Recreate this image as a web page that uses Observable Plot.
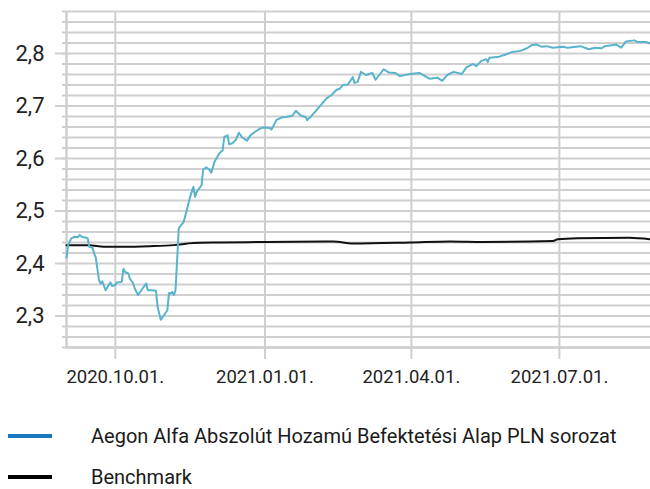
<!DOCTYPE html>
<html><head><meta charset="utf-8">
<script src="https://cdn.jsdelivr.net/npm/d3@7"></script>
<script src="https://cdn.jsdelivr.net/npm/@observablehq/plot@0.6"></script>
<style>
html,body{margin:0;background:#fff;font-family:Roboto,"Noto Sans",sans-serif;color:#1a1a1a;overflow:hidden;}
#chart svg{display:block;}
.leg{position:absolute;left:0;display:flex;align-items:center;font-size:20px;line-height:16px;height:16px;}
.sw{width:44px;height:4px;margin-left:8px;margin-right:39px;}
</style></head><body>
<div id="chart"></div>
<div class="leg" style="top:428px"><div class="sw" style="background:#1a78c2"></div><span>Aegon Alfa Abszolút Hozamú Befektetési Alap PLN sorozat</span></div>
<div class="leg" style="top:469px"><div class="sw" style="background:#000"></div><span>Benchmark</span></div>
<script>
const fundDates = ["2020-09-01","2020-09-02","2020-09-04","2020-09-06","2020-09-08","2020-09-09","2020-09-11","2020-09-12","2020-09-14","2020-09-15","2020-09-17","2020-09-18","2020-09-19","2020-09-21","2020-09-22","2020-09-23","2020-09-25","2020-09-28","2020-09-29","2020-10-01","2020-10-02","2020-10-05","2020-10-06","2020-10-07","2020-10-09","2020-10-10","2020-10-12","2020-10-13","2020-10-15","2020-10-17","2020-10-20","2020-10-21","2020-10-23","2020-10-26","2020-10-27","2020-10-29","2020-10-31","2020-11-02","2020-11-03","2020-11-04","2020-11-05","2020-11-06","2020-11-07","2020-11-08","2020-11-09","2020-11-10","2020-11-12","2020-11-14","2020-11-16","2020-11-18","2020-11-19","2020-11-20","2020-11-23","2020-11-24","2020-11-26","2020-11-28","2020-11-29","2020-12-01","2020-12-04","2020-12-06","2020-12-07","2020-12-09","2020-12-10","2020-12-12","2020-12-14","2020-12-16","2020-12-18","2020-12-21","2020-12-23","2020-12-26","2020-12-29","2020-12-31","2021-01-04","2021-01-05","2021-01-08","2021-01-11","2021-01-14","2021-01-18","2021-01-20","2021-01-23","2021-01-26","2021-01-27","2021-01-31","2021-02-03","2021-02-08","2021-02-11","2021-02-14","2021-02-16","2021-02-18","2021-02-21","2021-02-24","2021-02-25","2021-02-27","2021-03-01","2021-03-04","2021-03-08","2021-03-10","2021-03-15","2021-03-18","2021-03-22","2021-03-25","2021-03-28","2021-03-31","2021-04-06","2021-04-12","2021-04-17","2021-04-20","2021-04-23","2021-04-27","2021-05-02","2021-05-05","2021-05-09","2021-05-11","2021-05-14","2021-05-17","2021-05-18","2021-05-19","2021-05-25","2021-05-29","2021-06-02","2021-06-07","2021-06-11","2021-06-14","2021-06-17","2021-06-20","2021-06-23","2021-06-27","2021-07-03","2021-07-06","2021-07-14","2021-07-19","2021-07-23","2021-07-27","2021-07-29","2021-08-05","2021-08-08","2021-08-11","2021-08-16","2021-08-18","2021-08-23","2021-08-26"];
const fundValues = [2.411,2.435,2.448,2.451,2.450,2.454,2.450,2.450,2.448,2.432,2.430,2.419,2.411,2.368,2.362,2.366,2.349,2.364,2.357,2.359,2.364,2.365,2.390,2.384,2.381,2.371,2.362,2.352,2.340,2.349,2.362,2.349,2.349,2.348,2.317,2.293,2.302,2.311,2.344,2.343,2.346,2.340,2.349,2.406,2.467,2.471,2.479,2.502,2.527,2.546,2.527,2.536,2.549,2.579,2.583,2.578,2.573,2.594,2.610,2.616,2.641,2.644,2.627,2.629,2.635,2.649,2.640,2.634,2.644,2.651,2.657,2.659,2.658,2.655,2.673,2.678,2.679,2.682,2.691,2.682,2.679,2.673,2.686,2.697,2.715,2.721,2.731,2.733,2.740,2.741,2.755,2.744,2.746,2.765,2.759,2.763,2.750,2.770,2.764,2.763,2.757,2.759,2.761,2.763,2.752,2.754,2.748,2.759,2.765,2.761,2.774,2.780,2.776,2.786,2.789,2.784,2.792,2.794,2.798,2.803,2.805,2.810,2.816,2.817,2.813,2.814,2.811,2.813,2.811,2.814,2.808,2.811,2.810,2.814,2.817,2.811,2.823,2.825,2.822,2.822,2.819];
const benchDates = ["2020-09-01","2020-09-15","2020-09-24","2020-10-06","2020-10-22","2020-11-06","2020-11-18","2020-12-04","2021-01-01","2021-02-12","2021-02-24","2021-03-31","2021-04-25","2021-05-15","2021-06-27","2021-06-30","2021-07-12","2021-08-13","2021-08-26"];
const benchValues = [2.435,2.435,2.432,2.432,2.433,2.435,2.439,2.440,2.441,2.442,2.438,2.440,2.442,2.441,2.443,2.446,2.448,2.449,2.446];
const xTickDates = ["2020-10-01","2021-01-01","2021-04-01","2021-07-01"];
const xTickLabels = ["2020.10.01.","2021.01.01.","2021.04.01.","2021.07.01."];
const yLabelTicks = [2.3,2.4,2.5,2.6,2.7,2.8];
const yGridTicks = [2.24,2.26,2.28,2.30,2.32,2.34,2.36,2.38,2.40,2.42,2.44,2.46,2.48,2.50,2.52,2.54,2.56,2.58,2.60,2.62,2.64,2.66,2.68,2.70,2.72,2.74,2.76,2.78,2.80,2.82,2.84,2.86,2.88];
const xDomain = ["2020-09-01","2021-08-26"];

const parse = d3.utcParse("%Y-%m-%d");
const fund = fundDates.map((d,i)=>({date:parse(d), value:fundValues[i]}));
const bench = benchDates.map((d,i)=>({date:parse(d), value:benchValues[i]}));
const xt = xTickDates.map(parse);
const labelOf = new Map(xt.map((d,i)=>[+d, xTickLabels[i]]));
const grid = "#cfcfcf";

const chart = Plot.plot({
  width:650, height:395,
  marginTop:11, marginBottom:48, marginLeft:66, marginRight:0,
  style:{fontFamily:"Roboto, 'Noto Sans', sans-serif", background:"#fff"},
  x:{type:"utc", domain:xDomain.map(parse), label:null},
  y:{domain:[2.24,2.88], label:null},
  marks:[
    Plot.ruleY(yGridTicks, {stroke:grid, strokeWidth:2}),
    Plot.ruleX(xt, {stroke:grid, strokeWidth:2}),
    Plot.axisY(yGridTicks, {tickSize:4, tickFormat:()=>"", stroke:grid, strokeWidth:2, label:null}),
    Plot.axisY(yLabelTicks, {tickSize:11, tickPadding:11, stroke:grid, strokeWidth:2, fill:"#222", fontSize:22, label:null, tickFormat:d=>d.toFixed(1).replace(".",",")}),
    Plot.axisX(xt, {tickSize:12, tickPadding:10, stroke:grid, strokeWidth:2, fill:"#222", fontSize:18.5, label:null, tickFormat:d=>labelOf.get(+d)}),
    Plot.ruleX([parse(xDomain[0])], {stroke:grid, strokeWidth:2.5}),
    Plot.ruleY([2.24], {stroke:grid, strokeWidth:2.5}),
    Plot.line(bench, {x:"date", y:"value", stroke:"#111", strokeWidth:2, curve:"monotone-x"}),
    Plot.line(fund, {x:"date", y:"value", stroke:"#5ab3cc", strokeWidth:2})
  ]
});
document.getElementById("chart").appendChild(chart);
</script>
</body></html>
